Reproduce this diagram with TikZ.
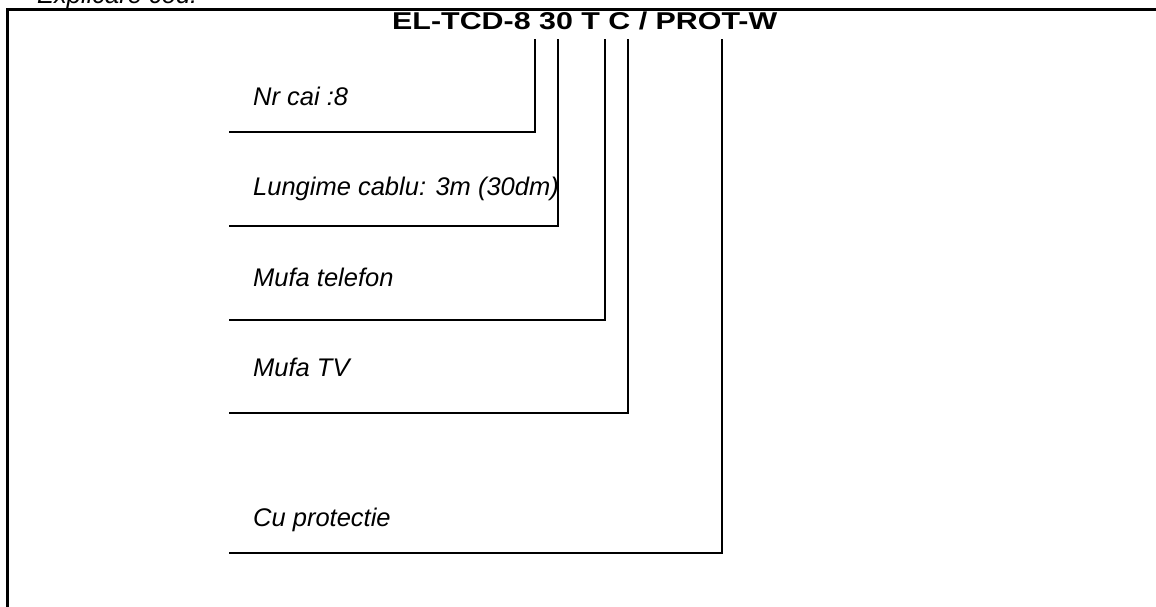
\documentclass[tikz,border=0pt]{standalone}
\usepackage{fontspec}
\usepackage{graphicx}
\setmainfont{Liberation Sans}
\begin{document}
\begin{tikzpicture}[x=1pt,y=-1pt,
  lbl/.style={font=\itshape\fontsize{25.5}{30}\selectfont, anchor=base west, inner sep=0pt},
  ttl/.style={font=\bfseries\fontsize{30.4}{36}\selectfont, anchor=base west, inner sep=0pt},
  conn/.style={line width=1.5pt, line cap=rect},
  frame/.style={line width=2.5pt}]
\useasboundingbox (0,0) rectangle (1156,607);
\clip (0,0) rectangle (1156,607);
% frame
\coordinate (fb) at (7.5,620);
\coordinate (fr) at (1170,9.5);
\draw[frame] (fb) |- (fr);
% header (cut off)
\node[lbl] (hdr) at (37,4) {Explicare cod:};
% title
\node[ttl] (title) at (392,30) {\scalebox{1}[0.8]{EL-TCD-8 30 T C / PROT-W}};
% labels
\node[lbl] (l1) at (253,106) {Nr cai :8};
\node[lbl] (l2) at (253,195) {Lungime cablu: 3m (30dm)};
\node[lbl] (l3) at (253,286) {Mufa telefon};
\node[lbl] (l4) at (253,376) {Mufa TV};
\node[lbl] (l5) at (253,526) {Cu protectie};
% connector tops
\coordinate (t1) at (535,40);
\coordinate (t2) at (558,40);
\coordinate (t3) at (605,40);
\coordinate (t4) at (628,40);
\coordinate (t5) at (722,40);
% connector free ends
\coordinate (s1) at (230,132);
\coordinate (s2) at (230,226);
\coordinate (s3) at (230,320);
\coordinate (s4) at (230,413);
\coordinate (s5) at (230,553);
\draw[conn] (t1) |- (s1);
\draw[conn] (t2) |- (s2);
\draw[conn] (t3) |- (s3);
\draw[conn] (t4) |- (s4);
\draw[conn] (t5) |- (s5);
\end{tikzpicture}
\end{document}
